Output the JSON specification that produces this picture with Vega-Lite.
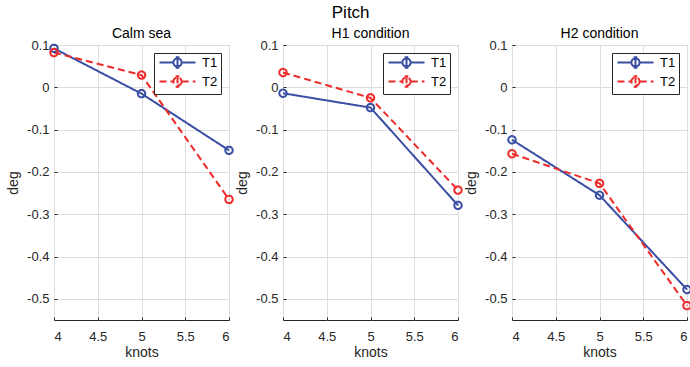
{
  "$schema": "https://vega.github.io/schema/vega-lite/v6.json",
  "padding": {"left": 6, "top": 3, "right": 2, "bottom": 2},
  "title": {"text": "Pitch", "fontSize": 17, "fontWeight": "normal", "font": "Liberation Sans", "color": "#000000", "anchor": "middle", "offset": 5},
  "data": {"values": [
    {"panel": "Calm sea", "knots": 4, "deg": 0.092, "series": "T1"},
    {"panel": "Calm sea", "knots": 5, "deg": -0.015, "series": "T1"},
    {"panel": "Calm sea", "knots": 6, "deg": -0.149, "series": "T1"},
    {"panel": "Calm sea", "knots": 4, "deg": 0.082, "series": "T2"},
    {"panel": "Calm sea", "knots": 5, "deg": 0.029, "series": "T2"},
    {"panel": "Calm sea", "knots": 6, "deg": -0.265, "series": "T2"},
    {"panel": "H1 condition", "knots": 4, "deg": -0.014, "series": "T1"},
    {"panel": "H1 condition", "knots": 5, "deg": -0.048, "series": "T1"},
    {"panel": "H1 condition", "knots": 6, "deg": -0.279, "series": "T1"},
    {"panel": "H1 condition", "knots": 4, "deg": 0.035, "series": "T2"},
    {"panel": "H1 condition", "knots": 5, "deg": -0.025, "series": "T2"},
    {"panel": "H1 condition", "knots": 6, "deg": -0.243, "series": "T2"},
    {"panel": "H2 condition", "knots": 4, "deg": -0.124, "series": "T1"},
    {"panel": "H2 condition", "knots": 5, "deg": -0.255, "series": "T1"},
    {"panel": "H2 condition", "knots": 6, "deg": -0.478, "series": "T1"},
    {"panel": "H2 condition", "knots": 4, "deg": -0.157, "series": "T2"},
    {"panel": "H2 condition", "knots": 5, "deg": -0.227, "series": "T2"},
    {"panel": "H2 condition", "knots": 6, "deg": -0.516, "series": "T2"}
  ]},
  "config": {
    "font": "Liberation Sans",
    "view": {"stroke": "#262626", "strokeWidth": 1},
    "axis": {
      "grid": true, "gridColor": "#dedede", "gridWidth": 1,
      "domain": false, "ticks": true, "tickSize": -3, "tickColor": "#262626",
      "labelColor": "#262626", "labelFontSize": 13,
      "titleColor": "#262626", "titleFontSize": 14, "titleFontWeight": "normal"
    },
    "axisX": {"labelPadding": 13, "titlePadding": 2},
    "axisY": {"labelPadding": 8, "titlePadding": 6},
    "title": {"fontSize": 14, "fontWeight": "normal", "color": "#000000", "offset": -2},
    "legend": {
      "orient": "top-right", "offset": 8, "fillColor": "#ffffff", "strokeColor": "#262626",
      "padding": 3, "rowPadding": 0, "labelFontSize": 13, "labelColor": "#000000", "labelOffset": 32,
      "title": null,
      "symbolType": "M-1,0H2.45M4.55,0H8M4.55,0L4.409,0.525L4.025,0.909L3.5,1.05L2.975,0.909L2.591,0.525L2.45,0L2.591,-0.525L2.975,-0.909L3.5,-1.05L4.025,-0.909L4.409,-0.525ZM3.5,-1.3V1.3M3.05,-1.3H3.95M3.05,1.3H3.95",
      "symbolSize": 64, "symbolStrokeWidth": 2, "symbolFillColor": "transparent"
    }
  },
  "resolve": {"legend": {"color": "independent", "strokeDash": "independent"}},
  "spacing": -3,
  "hconcat": [
    {
      "title": "Calm sea",
      "width": 175, "height": 275,
      "transform": [{"filter": "datum.panel == 'Calm sea'"}],
      "encoding": {
        "x": {"field": "knots", "type": "quantitative", "scale": {"domain": [4, 6], "nice": false, "zero": false}, "axis": {"values": [4, 4.5, 5, 5.5, 6], "title": "knots", "labelExpr": "'' + datum.value"}},
        "y": {"field": "deg", "type": "quantitative", "scale": {"domain": [-0.55, 0.1], "nice": false, "zero": false}, "axis": {"values": [-0.5, -0.4, -0.3, -0.2, -0.1, 0, 0.1], "title": "deg", "labelExpr": "'' + datum.value"}},
        "color": {"field": "series", "type": "nominal", "scale": {"domain": ["T1", "T2"], "range": ["#3a4fa3", "#ee2b2b"]}},
        "strokeDash": {"field": "series", "type": "nominal", "scale": {"domain": ["T1", "T2"], "range": [[1, 0], [7, 4]]}}
      },
      "layer": [
        {"mark": {"type": "line", "strokeWidth": 2}},
        {"mark": {"type": "point", "filled": false, "strokeWidth": 2, "size": 55, "opacity": 1}, "encoding": {"strokeDash": {"value": [1, 0]}}}
      ]
    },
    {
      "title": "H1 condition",
      "width": 175, "height": 275,
      "transform": [{"filter": "datum.panel == 'H1 condition'"}],
      "encoding": {
        "x": {"field": "knots", "type": "quantitative", "scale": {"domain": [4, 6], "nice": false, "zero": false}, "axis": {"values": [4, 4.5, 5, 5.5, 6], "title": "knots", "labelExpr": "'' + datum.value"}},
        "y": {"field": "deg", "type": "quantitative", "scale": {"domain": [-0.55, 0.1], "nice": false, "zero": false}, "axis": {"values": [-0.5, -0.4, -0.3, -0.2, -0.1, 0, 0.1], "title": "deg", "labelExpr": "'' + datum.value"}},
        "color": {"field": "series", "type": "nominal", "scale": {"domain": ["T1", "T2"], "range": ["#3a4fa3", "#ee2b2b"]}},
        "strokeDash": {"field": "series", "type": "nominal", "scale": {"domain": ["T1", "T2"], "range": [[1, 0], [7, 4]]}}
      },
      "layer": [
        {"mark": {"type": "line", "strokeWidth": 2}},
        {"mark": {"type": "point", "filled": false, "strokeWidth": 2, "size": 55, "opacity": 1}, "encoding": {"strokeDash": {"value": [1, 0]}}}
      ]
    },
    {
      "title": "H2 condition",
      "width": 175, "height": 275,
      "transform": [{"filter": "datum.panel == 'H2 condition'"}],
      "encoding": {
        "x": {"field": "knots", "type": "quantitative", "scale": {"domain": [4, 6], "nice": false, "zero": false}, "axis": {"values": [4, 4.5, 5, 5.5, 6], "title": "knots", "labelExpr": "'' + datum.value"}},
        "y": {"field": "deg", "type": "quantitative", "scale": {"domain": [-0.55, 0.1], "nice": false, "zero": false}, "axis": {"values": [-0.5, -0.4, -0.3, -0.2, -0.1, 0, 0.1], "title": "deg", "labelExpr": "'' + datum.value"}},
        "color": {"field": "series", "type": "nominal", "scale": {"domain": ["T1", "T2"], "range": ["#3a4fa3", "#ee2b2b"]}},
        "strokeDash": {"field": "series", "type": "nominal", "scale": {"domain": ["T1", "T2"], "range": [[1, 0], [7, 4]]}}
      },
      "layer": [
        {"mark": {"type": "line", "strokeWidth": 2}},
        {"mark": {"type": "point", "filled": false, "strokeWidth": 2, "size": 55, "opacity": 1}, "encoding": {"strokeDash": {"value": [1, 0]}}}
      ]
    }
  ]
}
